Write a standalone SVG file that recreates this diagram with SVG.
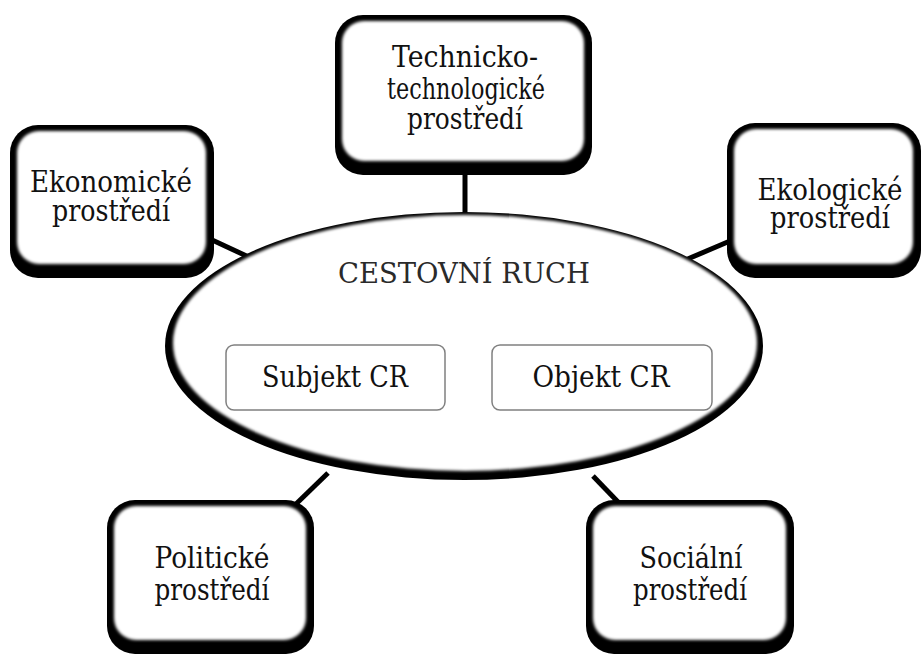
<svg xmlns="http://www.w3.org/2000/svg" width="923" height="655" viewBox="0 0 923 655">
<defs>
<filter id="soft" x="-5%" y="-5%" width="110%" height="110%"><feGaussianBlur stdDeviation="1.6"/></filter>
</defs>
<style>
text{font-family:'DejaVu Serif','Liberation Serif',serif}
.lbl{font-size:29px;fill:#111;text-anchor:middle}
.title{font-size:28px;fill:#2a2a2a;text-anchor:middle}
.shadow{fill:#000}
.face{fill:#fff;filter:url(#soft)}
.conn{stroke:#000;stroke-width:5;fill:none}
.sub{fill:#fff;stroke:#808080;stroke-width:1.5}
</style>
<rect width="923" height="655" fill="#fff"/>
<g id="connectors">
<line class="conn" x1="465" y1="170" x2="465" y2="216"/>
<line class="conn" x1="210" y1="239" x2="253" y2="259"/>
<line class="conn" x1="683" y1="261" x2="730" y2="241"/>
<line class="conn" x1="296" y1="504" x2="328" y2="473"/>
<line class="conn" x1="593" y1="476" x2="619" y2="503"/>
</g>
<g id="cestovni-ruch">
<ellipse class="shadow" cx="464" cy="346" rx="299" ry="134"/>
<ellipse class="face" cx="465" cy="343" rx="292" ry="128"/>
<text class="title" x="464" y="283" textLength="252" lengthAdjust="spacingAndGlyphs">CESTOVNÍ RUCH</text>
</g>
<g id="subjekt">
<rect class="sub" x="226" y="345" width="219" height="65" rx="8"/>
<text class="lbl" x="335" y="387" textLength="146" lengthAdjust="spacingAndGlyphs">Subjekt CR</text>
</g>
<g id="objekt">
<rect class="sub" x="492" y="345" width="220" height="65" rx="8"/>
<text class="lbl" x="601" y="387" textLength="137" lengthAdjust="spacingAndGlyphs">Objekt CR</text>
</g>
<g id="technicko">
<rect class="shadow" x="335" y="15" width="257" height="160" rx="28"/>
<rect class="face" x="342" y="21" width="242" height="140" rx="22"/>
<text class="lbl" x="465" y="67" textLength="146" lengthAdjust="spacingAndGlyphs">Technicko-</text>
<text class="lbl" x="466" y="99" textLength="158" lengthAdjust="spacingAndGlyphs">technologické</text>
<text class="lbl" x="465" y="129" textLength="116" lengthAdjust="spacingAndGlyphs">prostředí</text>
</g>
<g id="ekonomicke">
<rect class="shadow" x="10" y="125" width="204" height="153" rx="28"/>
<rect class="face" x="17" y="131" width="189" height="133" rx="22"/>
<text class="lbl" x="111" y="192" textLength="162" lengthAdjust="spacingAndGlyphs">Ekonomické</text>
<text class="lbl" x="111" y="221" textLength="118" lengthAdjust="spacingAndGlyphs">prostředí</text>
</g>
<g id="ekologicke">
<rect class="shadow" x="727" y="123" width="194" height="155" rx="28"/>
<rect class="face" x="734" y="129" width="179" height="135" rx="22"/>
<text class="lbl" x="830" y="200" textLength="145" lengthAdjust="spacingAndGlyphs">Ekologické</text>
<text class="lbl" x="830" y="228" textLength="120" lengthAdjust="spacingAndGlyphs">prostředí</text>
</g>
<g id="politicke">
<rect class="shadow" x="107" y="500" width="207" height="154" rx="28"/>
<rect class="face" x="114" y="506" width="192" height="134" rx="22"/>
<text class="lbl" x="212" y="568" textLength="115" lengthAdjust="spacingAndGlyphs">Politické</text>
<text class="lbl" x="212" y="600" textLength="115" lengthAdjust="spacingAndGlyphs">prostředí</text>
</g>
<g id="socialni">
<rect class="shadow" x="586" y="500" width="208" height="154" rx="28"/>
<rect class="face" x="593" y="506" width="193" height="134" rx="22"/>
<text class="lbl" x="691" y="568" textLength="103" lengthAdjust="spacingAndGlyphs">Sociální</text>
<text class="lbl" x="690" y="600" textLength="114" lengthAdjust="spacingAndGlyphs">prostředí</text>
</g>
</svg>
